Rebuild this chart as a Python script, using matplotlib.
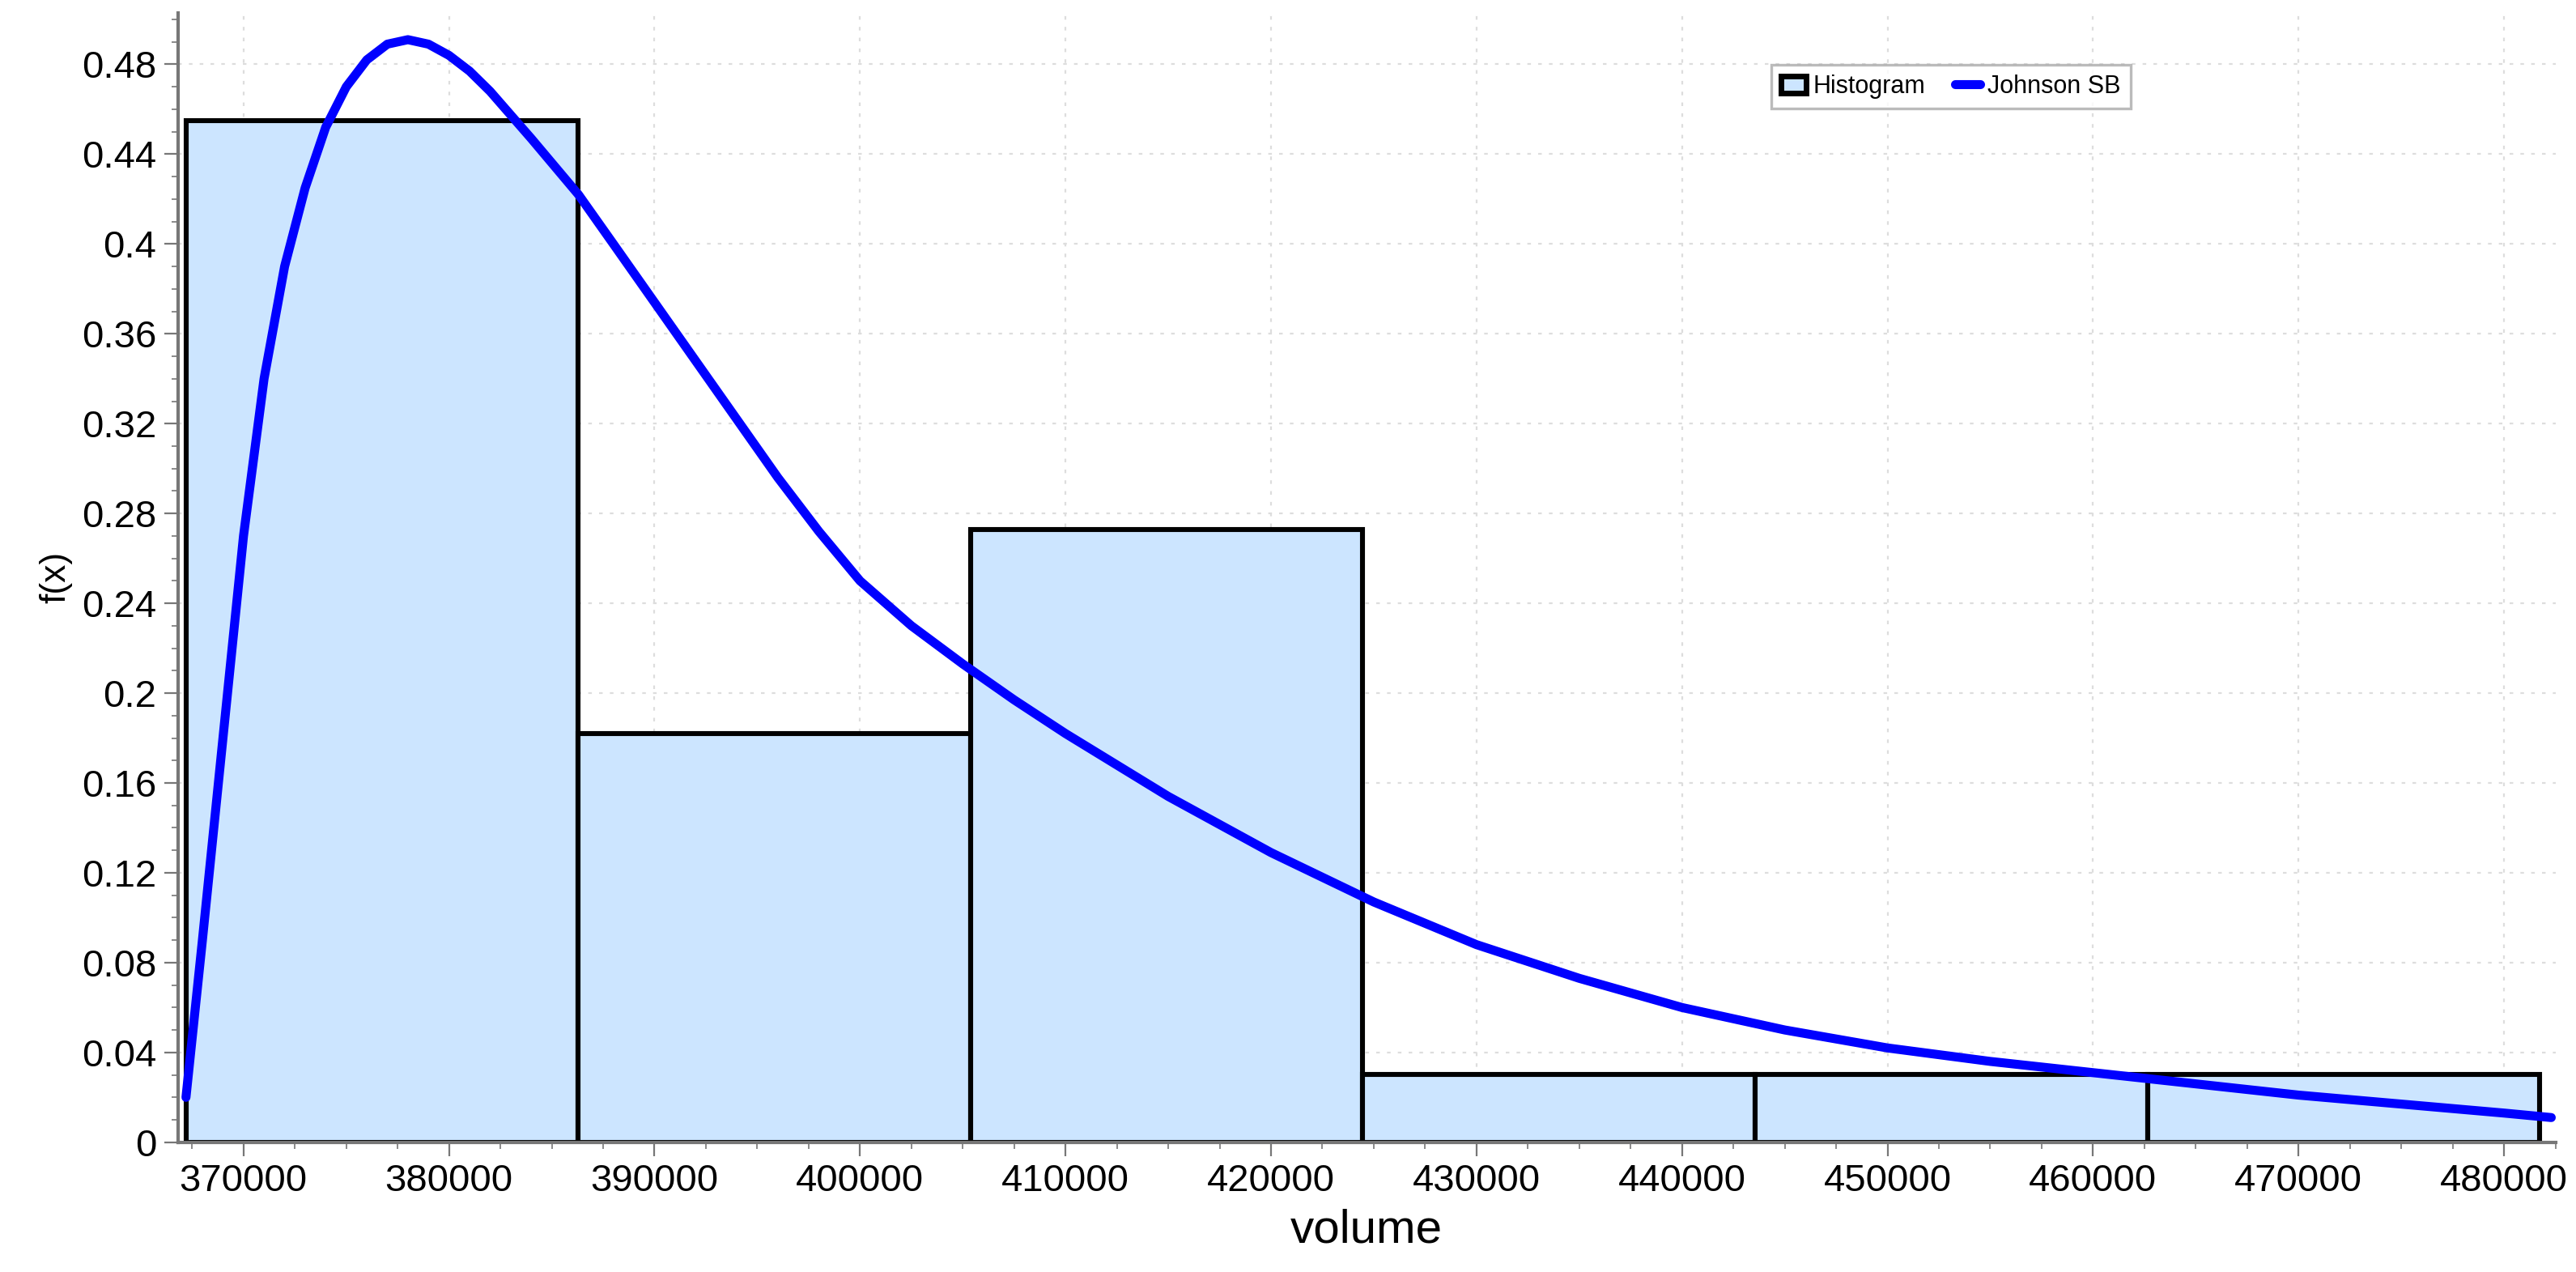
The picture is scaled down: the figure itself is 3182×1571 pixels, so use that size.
import matplotlib
matplotlib.use("Agg")
import matplotlib.pyplot as plt
from matplotlib.ticker import MultipleLocator, FuncFormatter
from matplotlib.patches import Patch
from matplotlib.lines import Line2D

plt.rcParams["font.family"] = ["Liberation Sans", "DejaVu Sans"]

# histogram bins (volume) and f(x) heights
bin_edges = [367200, 386290, 405380, 424470, 443560, 462650, 481740]
bin_heights = [0.455, 0.182, 0.273, 0.0303, 0.0303, 0.0303]

# Johnson SB fitted curve
curve_x = [367200, 368000, 369000, 370000, 371000, 372000, 373000, 374000, 375000,
           376000, 377000, 378000, 379000, 380000, 381000, 382000, 384000, 386300,
           388000, 390000, 392000, 394000, 396000, 398000, 400000, 402500,
           405000, 407500, 410000, 415000, 420000, 425000, 430000, 435000, 440000,
           445000, 450000, 455000, 460000, 465000, 470000, 475000, 480000, 482300]
curve_y = [0.02, 0.09, 0.18, 0.27, 0.34, 0.39, 0.425, 0.452, 0.47,
           0.482, 0.489, 0.491, 0.489, 0.484, 0.477, 0.468, 0.447, 0.422,
           0.4, 0.374, 0.348, 0.322, 0.296, 0.272, 0.25, 0.23,
           0.213, 0.197, 0.182, 0.154, 0.129, 0.107, 0.088, 0.073, 0.06,
           0.05, 0.042, 0.036, 0.031, 0.026, 0.021, 0.017, 0.013, 0.011]

fig = plt.figure(figsize=(15.91, 7.855), dpi=200)
ax = fig.add_axes([0.069, 0.102, 0.923, 0.888])

widths = [b - a for a, b in zip(bin_edges[:-1], bin_edges[1:])]
ax.bar(bin_edges[:-1], bin_heights, width=widths, align="edge",
       color="#cce5ff", edgecolor="black", linewidth=2.2, zorder=2)
ax.plot(curve_x, curve_y, color="#0000ff", linewidth=4, solid_capstyle="round", zorder=3)

ax.set_xlim(366800, 482500)
ax.set_ylim(0, 0.503)
ax.xaxis.set_major_locator(MultipleLocator(10000))
ax.xaxis.set_minor_locator(MultipleLocator(2500))
ax.yaxis.set_major_locator(MultipleLocator(0.04))
ax.yaxis.set_minor_locator(MultipleLocator(0.01))
ax.yaxis.set_major_formatter(FuncFormatter(lambda v, p: "0" if abs(v) < 1e-9 else f"{v:.2f}".rstrip("0")))
ax.tick_params(labelsize=17, color="#777777", length=6)
ax.tick_params(which="minor", color="#777777", length=3)
ax.grid(True, color="#dddddd", linestyle=(0, (2, 4)), linewidth=0.8, zorder=0)
ax.set_axisbelow(True)
for s in ["top", "right"]:
    ax.spines[s].set_visible(False)
for s in ["left", "bottom"]:
    ax.spines[s].set_color("#777777")
    ax.spines[s].set_linewidth(1.5)

ax.set_xlabel("volume", fontsize=21)
ax.set_ylabel("f(x)", fontsize=16)

handles = [Patch(facecolor="#cce5ff", edgecolor="black", linewidth=2.5),
           Line2D([0], [0], color="#0000ff", linewidth=4, solid_capstyle="round")]
leg = ax.legend(handles, ["Histogram", "Johnson SB"], ncol=2, fontsize=11,
                loc="upper left", bbox_to_anchor=(0.665, 0.965), fancybox=False,
                handlelength=1.0, handletextpad=0.3, columnspacing=1.2,
                borderpad=0.4)
leg.get_frame().set_edgecolor("#aaaaaa")
leg.get_frame().set_linewidth(1.2)

fig.savefig("out.png", dpi=200)
